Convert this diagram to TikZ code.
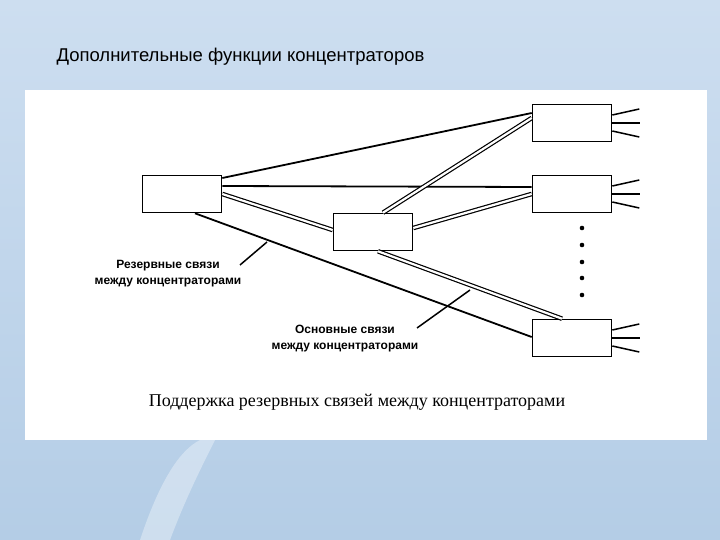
\documentclass[tikz,border=0pt]{standalone}
\usepackage{fontspec}
\setmainfont{Liberation Serif}
\newfontfamily\sansf{Liberation Sans}
\begin{document}
\begin{tikzpicture}[x=1pt,y=-1pt,
  hub/.style={draw,line width=1.6pt,fill=white,minimum width=79pt,minimum height=37pt,inner sep=0},
  sl/.style={line width=1.8pt},
  dl/.style={double=white,line width=1.2pt,double distance=2.2pt},
  lbl/.style={font=\sansf\bfseries\fontsize{12}{16}\selectfont,align=center,inner sep=0}]
\useasboundingbox (0,0) rectangle (720,540);
\shade[top color={rgb,255:red,205;green,222;blue,240},bottom color={rgb,255:red,180;green,205;blue,230}] (0,0) rectangle (720,540);
\fill[white,opacity=0.35] (140,540) .. controls (160,480) and (180,450) .. (200,440) -- (215,440) .. controls (200,470) and (185,500) .. (170,540) -- cycle;
\fill[white] (25,90) rectangle (707,440);
\node[anchor=west,font=\sansf\fontsize{18.5}{20}\selectfont] (title) at (53,57) {Дополнительные функции концентраторов};
\node[hub] (L) at (182,194) {};
\node[hub] (M) at (373,232) {};
\node[hub] (R1) at (572,123) {};
\node[hub] (R2) at (572,194) {};
\node[hub] (R3) at (572,338) {};
\draw[sl] ([yshift=16pt]L.east) -- ([yshift=10pt]R1.west);
\draw[sl] ([yshift=8pt]L.east) -- ([yshift=7pt]R2.west);
\draw[sl] ([xshift=13pt]L.south) -- ([yshift=1pt]R3.west);
\draw[dl] ([yshift=0pt]L.east) -- ([yshift=2pt]M.west);
\draw[dl] ([xshift=10pt]M.north) -- ([yshift=5pt]R1.west);
\draw[dl] ([yshift=4pt]M.east) -- ([yshift=0pt]R2.west);
\draw[dl] ([xshift=5pt]M.south) -- ([xshift=-10pt]R3.north);
\foreach \r in {R1,R2,R3}{
  \draw[line width=1.5pt] ([yshift=8pt]\r.east) -- ++(27,-6);
  \draw[line width=1.5pt] (\r.east) -- ++(28,0);
  \draw[line width=1.5pt] ([yshift=-8pt]\r.east) -- ++(27,6);
}
\foreach \y in {228,245,262,278,295}{\fill (582,\y) circle (2.3pt);}
\node[lbl] (l1) at (168,274) {Резервные связи\\между концентраторами};
\node[lbl] (l2) at (345,339) {Основные связи\\между концентраторами};
\coordinate (p1) at (267,242);
\coordinate (p2) at (470,290);
\draw[line width=1.5pt] (240,265) -- (p1);
\draw[line width=1.5pt] (417,328) -- (p2);
\node[font=\fontsize{18}{20}\selectfont] (cap) at (357,402) {Поддержка резервных связей между концентраторами};
\end{tikzpicture}
\end{document}
